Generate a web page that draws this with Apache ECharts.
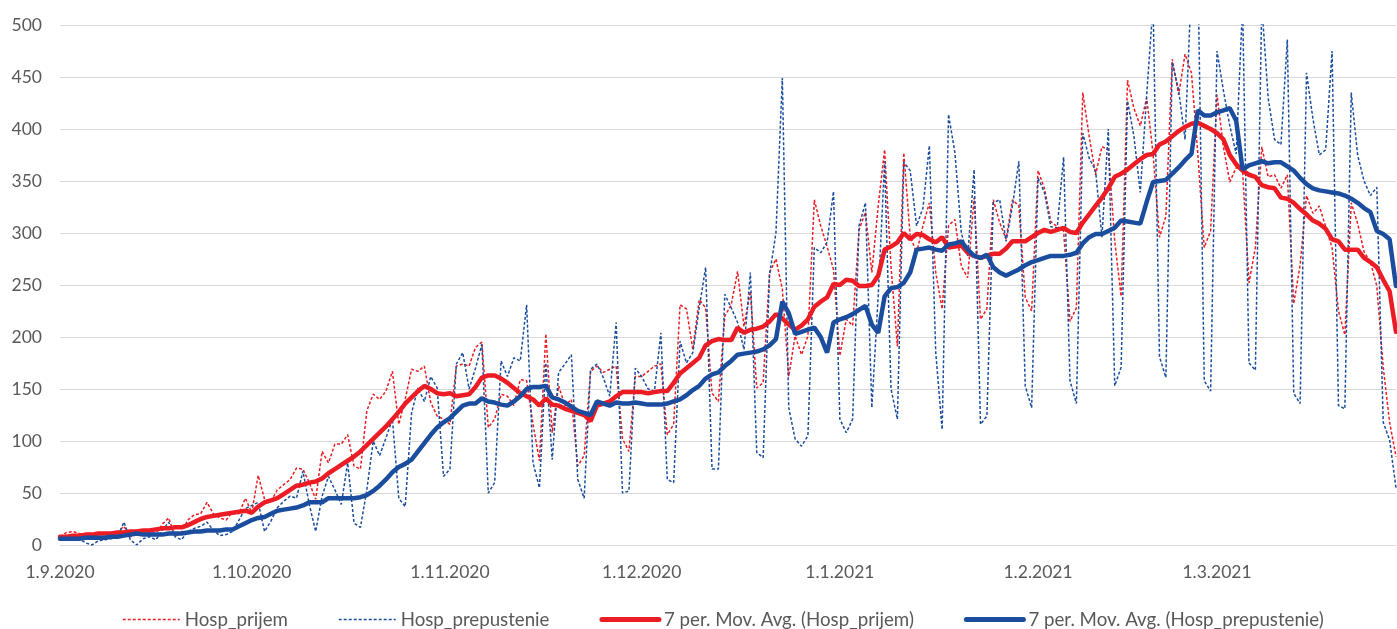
<!DOCTYPE html>
<html>
<head>
<meta charset="utf-8">
<script src="https://cdn.jsdelivr.net/npm/echarts@6/dist/echarts.min.js"></script>
<style>
  html, body { margin: 0; padding: 0; background: #fff; }
  #chart { width: 1397px; height: 629px; }
</style>
</head>
<body>
<div id="chart"></div>
<script>
// daily values from 1.9.2020 to 29.3.2021
const startDate = [2020, 8, 1];
const dayCount = 210;

const hospPrijem = [
  8, 12, 13, 11, 9, 8, 10, 11, 10, 12, 18, 8, 10, 13, 12, 11, 20, 26, 8, 12,
  24, 29, 30, 41, 30, 26, 24, 32, 30, 45, 31, 67, 44, 42, 53, 58, 63, 74, 73, 60,
  44, 90, 79, 97, 97, 106, 76, 73, 129, 145, 140, 148, 167, 116, 140, 169, 167, 172, 137, 124,
  121, 116, 172, 174, 172, 190, 195, 113, 121, 145, 143, 134, 159, 158, 116, 81, 203, 108, 153, 134,
  140, 76, 86, 167, 172, 166, 169, 172, 102, 90, 162, 162, 167, 172, 174, 106, 116, 231, 227, 188,
  236, 228, 146, 138, 220, 231, 263, 210, 244, 151, 156, 262, 275, 246, 162, 201, 183, 201, 332, 307,
  287, 265, 182, 217, 211, 303, 320, 262, 326, 380, 268, 191, 377, 297, 281, 307, 329, 262, 227, 307,
  313, 268, 257, 334, 217, 227, 332, 310, 294, 332, 326, 238, 225, 360, 343, 311, 306, 302, 215, 228,
  435, 393, 356, 383, 380, 292, 239, 447, 420, 403, 430, 376, 296, 316, 467, 433, 472, 454, 376, 286,
  302, 433, 383, 349, 363, 360, 252, 286, 383, 354, 356, 343, 356, 232, 269, 336, 319, 326, 306, 286,
  225, 202, 329, 309, 282, 272, 249, 171, 118, 85
];

const hospPrepustenie = [
  5, 10, 8, 6, 2, 0, 4, 5, 6, 8, 22, 5, 0, 6, 8, 5, 14, 22, 8, 5,
  13, 16, 18, 22, 14, 9, 10, 13, 24, 35, 38, 41, 13, 23, 36, 42, 47, 45, 71, 39,
  13, 47, 66, 53, 39, 79, 21, 17, 53, 100, 86, 103, 121, 45, 37, 127, 151, 138, 162, 151,
  66, 73, 174, 185, 150, 170, 193, 50, 60, 177, 162, 180, 177, 231, 79, 55, 175, 82, 166, 174,
  183, 63, 45, 169, 174, 161, 143, 214, 50, 52, 170, 162, 150, 148, 204, 63, 60, 196, 175, 185,
  228, 267, 73, 73, 241, 228, 214, 188, 262, 89, 84, 260, 300, 449, 132, 102, 95, 105, 286, 281,
  291, 340, 121, 108, 121, 307, 329, 132, 240, 369, 150, 121, 368, 360, 307, 324, 384, 185, 111, 414,
  377, 300, 278, 361, 116, 124, 329, 332, 292, 326, 369, 153, 132, 353, 339, 306, 305, 373, 158, 136,
  396, 372, 360, 296, 400, 153, 171, 427, 393, 339, 433, 520, 181, 161, 464, 437, 390, 540, 560, 158,
  148, 475, 437, 403, 376, 520, 175, 168, 520, 430, 390, 385, 486, 146, 136, 454, 410, 375, 380, 475,
  134, 131, 435, 375, 350, 336, 344, 118, 101, 55
];

const maPrijem = [
  8, 8, 9, 9, 10, 10, 11, 11, 11, 12, 12, 13, 13, 14, 14, 15, 16, 16, 17, 17,
  19, 22, 25, 27, 28, 29, 30, 31, 32, 33, 31, 37, 41, 43, 45, 49, 53, 57, 58, 60,
  61, 64, 69, 73, 77, 81, 85, 90, 96, 102, 108, 114, 121, 128, 136, 142, 148, 153, 150, 146,
  145, 146, 143, 144, 145, 152, 161, 163, 163, 160, 156, 151, 146, 143, 140, 134, 141, 135, 134, 131,
  129, 127, 125, 119, 134, 136, 138, 143, 147, 147, 147, 147, 146, 147, 148, 148, 156, 165, 170, 175,
  180, 192, 196, 198, 197, 197, 209, 204, 207, 208, 210, 215, 222, 218, 212, 207, 211, 217, 229, 234,
  238, 251, 250, 255, 254, 249, 249, 250, 259, 284, 287, 291, 300, 294, 299, 298, 294, 291, 296, 286,
  287, 288, 281, 278, 276, 278, 280, 280, 285, 292, 292, 292, 296, 300, 303, 301, 303, 305, 301, 300,
  310, 318, 326, 334, 343, 354, 357, 361, 366, 371, 375, 376, 385, 388, 393, 398, 402, 405, 406, 403,
  400, 396, 390, 375, 366, 360, 356, 354, 346, 344, 343, 334, 333, 329, 323, 318, 312, 309, 304, 294,
  292, 284, 284, 284, 276, 272, 267, 255, 244, 205
];

const maPrepustenie = [
  6, 6, 6, 6, 7, 7, 7, 7, 8, 8, 9, 10, 11, 10, 10, 10, 10, 11, 11, 11,
  12, 13, 13, 14, 14, 14, 15, 15, 18, 21, 24, 26, 27, 30, 33, 34, 35, 36, 38, 41,
  41, 41, 45, 45, 45, 45, 45, 46, 48, 52, 57, 63, 70, 75, 78, 82, 90, 98, 106, 113,
  118, 122, 128, 134, 136, 136, 141, 138, 137, 135, 134, 138, 143, 150, 152, 152, 153, 142, 140, 137,
  133, 129, 127, 125, 138, 136, 134, 137, 136, 136, 137, 136, 135, 135, 135, 136, 138, 140, 144, 149,
  153, 160, 164, 166, 172, 177, 183, 184, 185, 186, 188, 192, 198, 234, 223, 203, 205, 207, 209, 200,
  185, 214, 217, 219, 222, 226, 230, 212, 204, 239, 247, 248, 252, 262, 284, 285, 286, 284, 283, 289,
  290, 292, 284, 278, 276, 279, 267, 262, 259, 262, 265, 269, 272, 274, 276, 278, 278, 278, 279, 281,
  290, 296, 299, 299, 302, 305, 312, 311, 310, 309, 330, 349, 350, 351, 357, 363, 370, 376, 418, 413,
  413, 416, 418, 420, 408, 361, 365, 367, 369, 367, 368, 368, 364, 360, 353, 347, 343, 341, 340, 339,
  338, 336, 333, 329, 324, 320, 302, 299, 294, 249
];

const yTicks = { min: 0, max: 500, interval: 50 };
const legendNames = [
  'Hosp_prijem',
  'Hosp_prepustenie',
  '7 per. Mov. Avg. (Hosp_prijem)',
  '7 per. Mov. Avg. (Hosp_prepustenie)'
];

const categories = [];
for (let i = 0; i < dayCount; i++) {
  const d = new Date(startDate[0], startDate[1], startDate[2] + i);
  categories.push(d.getDate() + '.' + (d.getMonth() + 1) + '.' + d.getFullYear());
}

const RED = '#ec1c24';
const BLUE = '#1a4d9e';
const FONT = 'Lato';
const TEXT = '#595959';

const chart = echarts.init(document.getElementById('chart'));
chart.setOption({
  backgroundColor: '#ffffff',
  animation: false,
  textStyle: { fontFamily: FONT },
  grid: { left: 60, right: 1, top: 25, bottom: 84, containLabel: false },
  legend: {
    top: 605,
    left: 117,
    itemWidth: 57,
    itemHeight: 14,
    itemGap: 50,
    // hide the default circle marker, keep only the line
    itemStyle: { color: 'rgba(0,0,0,0)', borderWidth: 0 },
    textStyle: { color: TEXT, fontSize: 18.7, fontFamily: FONT },
    data: [
      { name: legendNames[0], lineStyle: { width: 1.5, type: [3, 2] } },
      { name: legendNames[1], lineStyle: { width: 1.5, type: [3, 2] } },
      { name: legendNames[2], lineStyle: { width: 5, cap: 'round' } },
      { name: legendNames[3], lineStyle: { width: 5, cap: 'round' } }
    ]
  },
  xAxis: {
    type: 'category',
    data: categories,
    boundaryGap: false,
    axisLine: { lineStyle: { color: '#d9d9d9', width: 1 } },
    axisTick: { show: false },
    splitLine: { show: false },
    axisLabel: {
      color: TEXT,
      fontSize: 17.5,
      margin: 18,
      interval: (idx, val) => val.split('.')[0] === '1'
    }
  },
  yAxis: {
    type: 'value',
    min: yTicks.min,
    max: yTicks.max,
    interval: yTicks.interval,
    axisLine: { show: false },
    axisTick: { show: false },
    splitLine: { lineStyle: { color: '#d9d9d9', width: 1 } },
    axisLabel: { color: TEXT, fontSize: 17.5, margin: 18 }
  },
  series: [
    {
      name: legendNames[0],
      type: 'line',
      data: hospPrijem,
      symbol: 'none',
      lineStyle: { color: RED, width: 1.5, type: [3, 2] },
      itemStyle: { color: RED },
      z: 2
    },
    {
      name: legendNames[1],
      type: 'line',
      data: hospPrepustenie,
      symbol: 'none',
      lineStyle: { color: BLUE, width: 1.5, type: [3, 2] },
      itemStyle: { color: BLUE },
      z: 3
    },
    {
      name: legendNames[2],
      type: 'line',
      data: maPrijem,
      symbol: 'none',
      lineStyle: { color: RED, width: 4.5, cap: 'round' },
      itemStyle: { color: RED },
      z: 4
    },
    {
      name: legendNames[3],
      type: 'line',
      data: maPrepustenie,
      symbol: 'none',
      lineStyle: { color: BLUE, width: 4.5, cap: 'round' },
      itemStyle: { color: BLUE },
      z: 5
    }
  ]
});
</script>
</body>
</html>
